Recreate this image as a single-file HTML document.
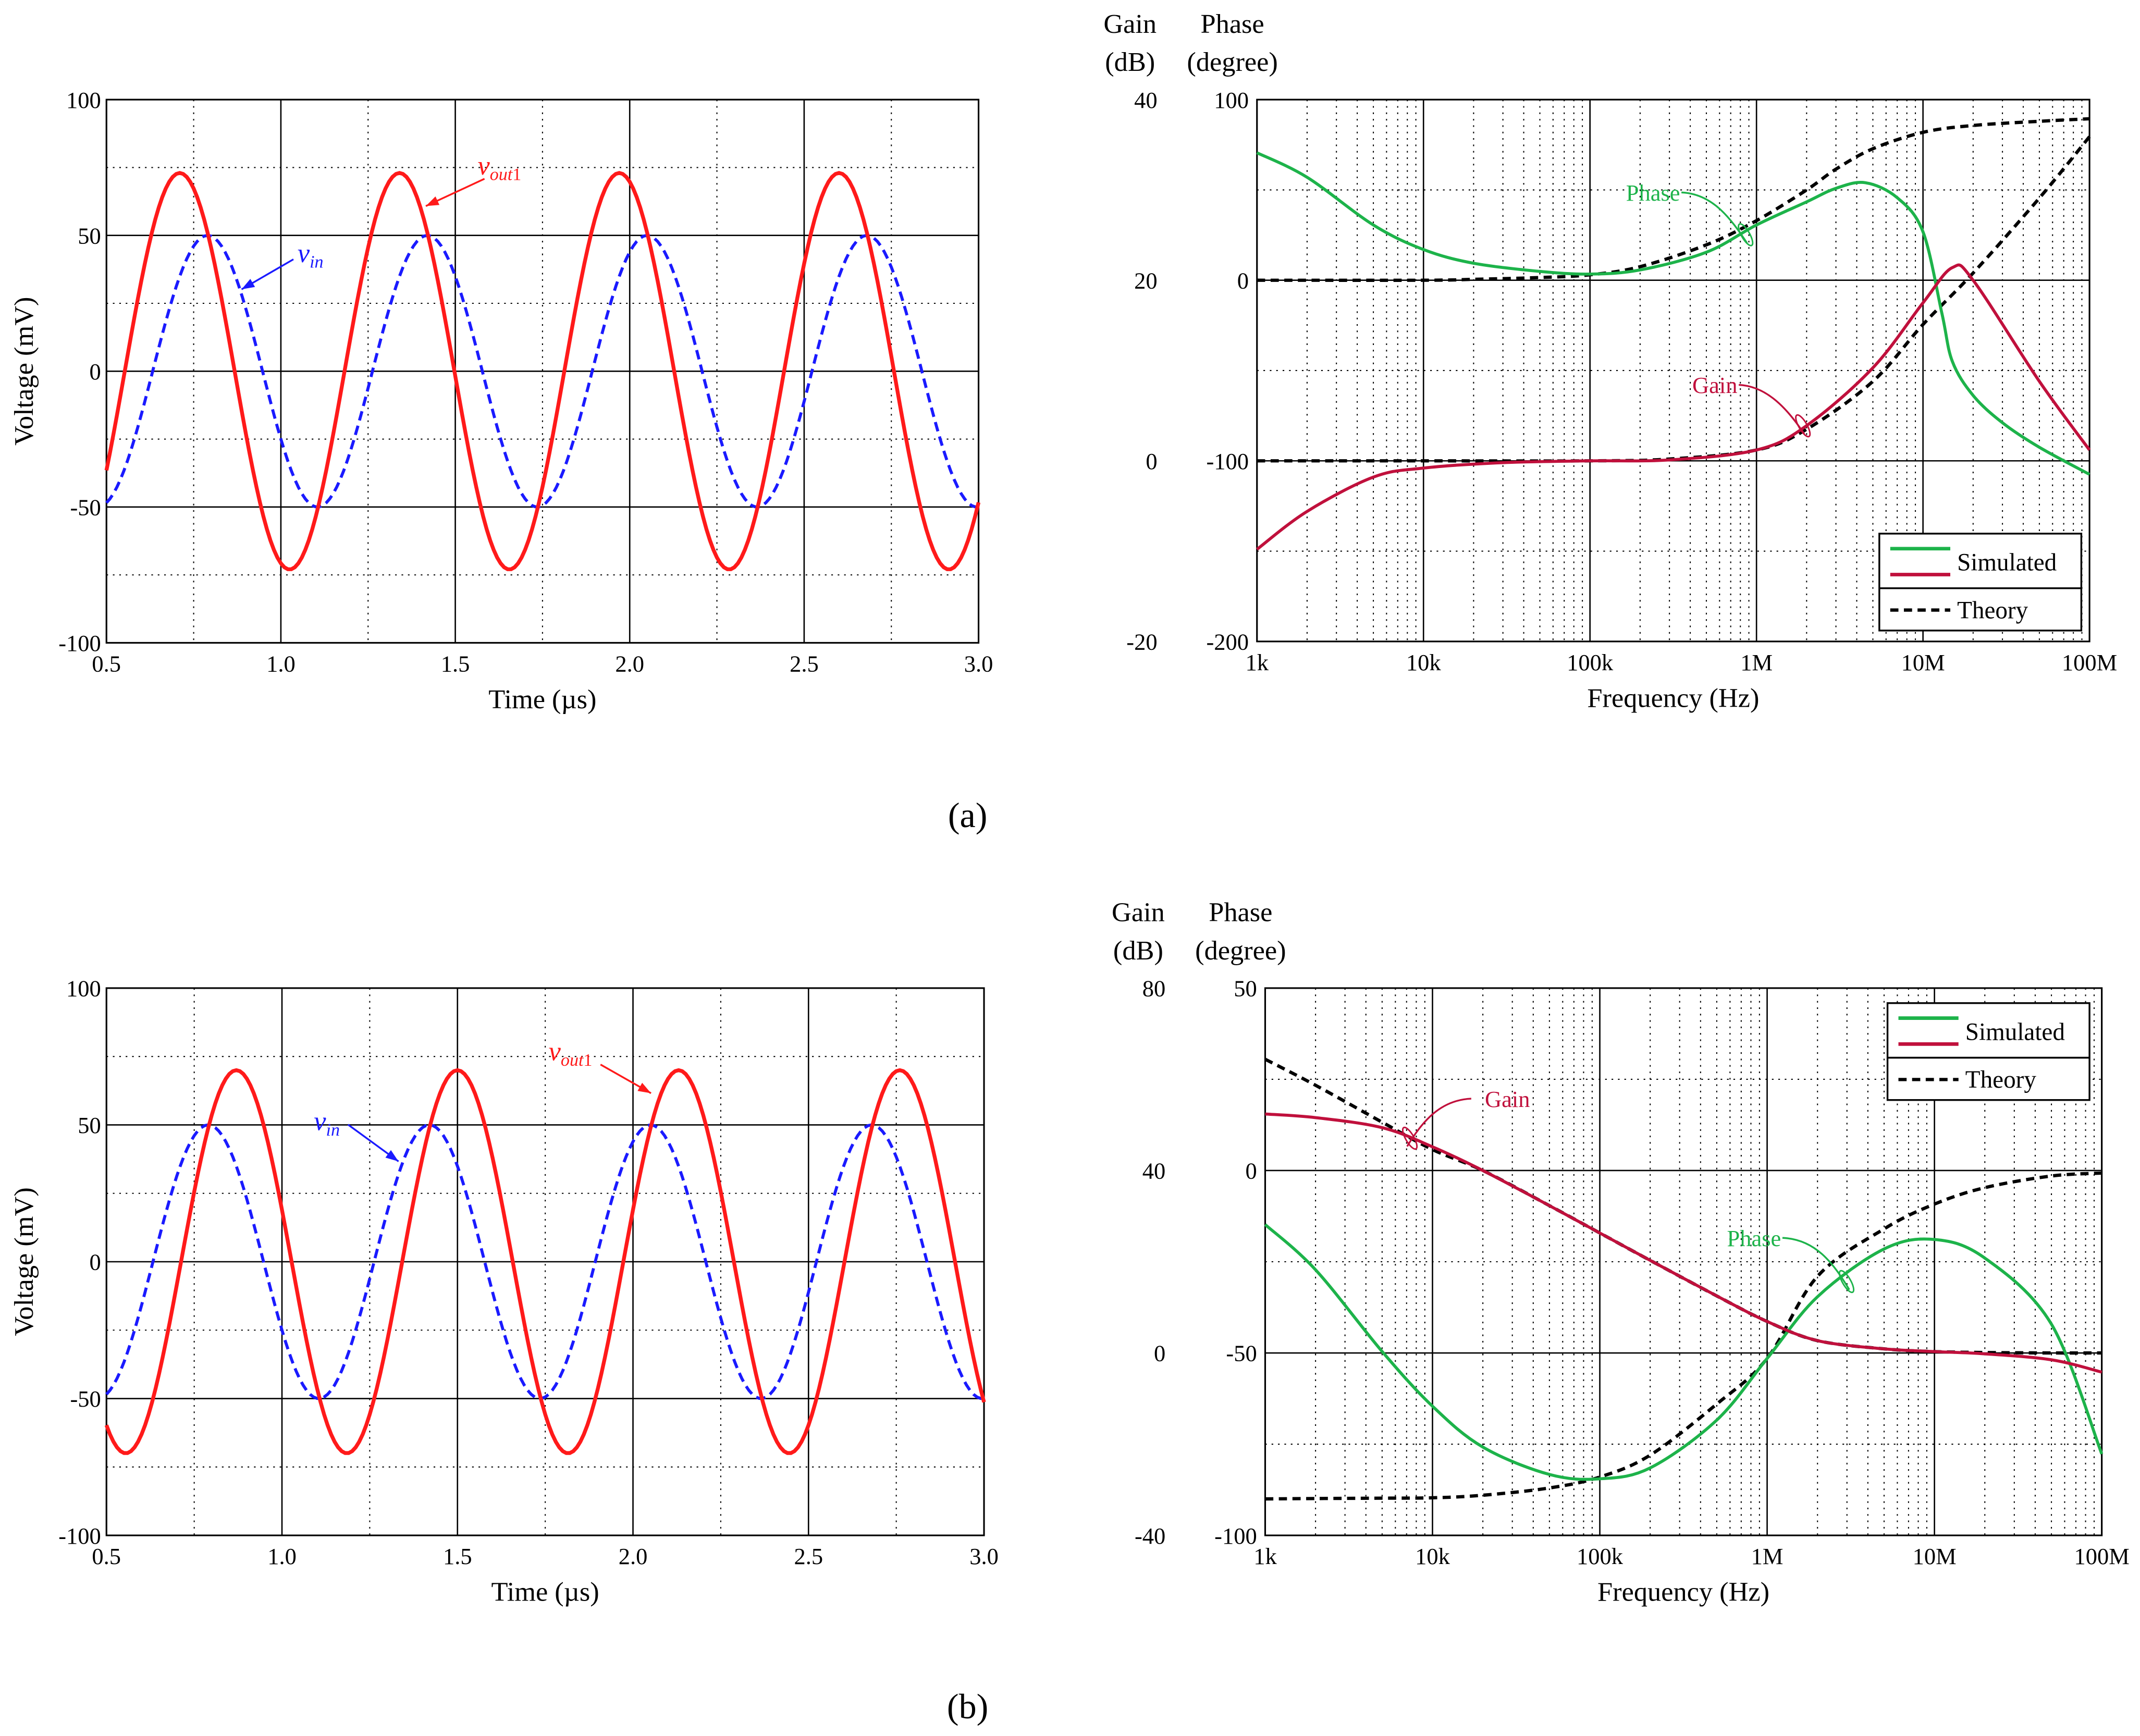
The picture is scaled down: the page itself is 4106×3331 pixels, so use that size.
<!DOCTYPE html>
<html><head><meta charset="utf-8">
<style>
html,body{margin:0;padding:0;background:#fff;}
svg{display:block;font-family:"Liberation Serif",serif;}
</style></head>
<body>
<svg id="fig" width="4106" height="3331" viewBox="0 0 1568 1272" preserveAspectRatio="none" xmlns="http://www.w3.org/2000/svg">
<rect width="1568" height="1272" fill="#fff"/>
<text x="709" y="606" font-size="26" text-anchor="middle">(a)</text>
<text x="709" y="1259" font-size="26" text-anchor="middle">(b)</text>
</svg>
<script>
// ---- time-domain data: sine parameters (amplitude mV, peak time us, period us)
const timeTicks = [0.5,1.0,1.5,2.0,2.5,3.0];
const timeTickLabels = ["0.5","1.0","1.5","2.0","2.5","3.0"];
const voltTicks = [100,50,0,-50,-100];
const voltTickLabels = ["100","50","0","-50","-100"];
const vinA = [50, 0.79, 0.63];
const voutA = [73, 0.71, 0.63];
const vinB = [50, 0.79, 0.63];
const voutB = [70, 0.87, 0.63];

// ---- frequency-domain data
const freqTickLabels = ["1k","10k","100k","1M","10M","100M"];
const gainTicksA = [40,20,0,-20];
const phaseTicksA = [100,0,-100,-200];
const gainTicksB = [80,40,0,-40];
const phaseTicksB = [50,0,-50,-100];
const freqA = [1e3,2e3,5e3,1e4,2e4,5e4,1e5,2e5,5e5,1e6,2e6,3e6,4.5e6,7e6,1e7,1.3e7,1.5e7,2e7,3e7,5e7,1e8];
const phaseSimA = [70.6,57,30.6,17,9.4,4.9,3.4,5.7,15.5,30.6,43.4,50.9,54,45.7,26.8,-18.5,-44.9,-63.8,-78.9,-92.5,-107.5];
const phaseThFreqA = [1e3,1e4,2e4,5e4,1e5,2e5,5e5,1e6,2e6,3e6,5e6,1e7,2e7,5e7,1e8];
const phaseThA = [0,0,0.5,1.5,3,7.5,19.6,33,50,61.5,72.8,81.9,85.7,88,89.4];
const gainFreqA = [1e3,2e3,5e3,1e4,3e4,1e5,3e5,1e6,2e6,5e6,1e7,1.5e7,2e7,5e7,1e8];
const gainSimA = [-9.8,-5.6,-1.8,-0.8,-0.2,0,0.1,1.2,3.9,10.3,17.5,21.4,20,8.8,1.2];
const gainThFreqA = [1e3,1e4,1e5,3e5,1e6,2e6,5e6,1e7,2e7,5e7,1e8];
const gainThA = [0,0,0,0.2,1.2,3.5,8.8,15.1,20.8,29.1,35.9];
const freqB = [1e3,2e3,5e3,1e4,2e4,5e4,1e5,2e5,5e5,1e6,2e6,5e6,1e7,2e7,5e7,1e8];
const gainSimB = [52.4,51.6,49.4,45.2,40,32.3,26.3,20.3,12.5,6.9,2.7,0.9,0.3,-0.2,-1.5,-4.2];
const gainThB = [64.4,58.7,50.6,44.6,40,32.3,26.3,20.3,12.5,6.9,2.7,0.9,0.3,0.1,0,0];
const phaseSimB = [-14.8,-27.2,-49.6,-64.6,-75.8,-83.3,-84.5,-81.5,-68.4,-51.5,-34.6,-21.5,-18.9,-24,-42.1,-77.7];
const phaseThB = [-90,-89.9,-89.8,-89.7,-89,-87,-84,-78,-64,-51.5,-29,-16,-9.2,-4.7,-1.5,-0.7];

const NS="http://www.w3.org/2000/svg";
const svg=document.getElementById('fig');
function el(tag,attrs,parent){const e=document.createElementNS(NS,tag);for(const k in attrs)e.setAttribute(k,attrs[k]);(parent||svg).appendChild(e);return e;}
function txt(x,y,s,attrs,parent){const t=el('text',Object.assign({x:x,y:y},attrs),parent);t.textContent=s;return t;}
function smooth(pts){let d="M"+pts[0][0].toFixed(2)+","+pts[0][1].toFixed(2);
 for(let i=0;i<pts.length-1;i++){const p0=pts[Math.max(i-1,0)],p1=pts[i],p2=pts[i+1],p3=pts[Math.min(i+2,pts.length-1)];
  const c1=[p1[0]+(p2[0]-p0[0])/6,p1[1]+(p2[1]-p0[1])/6],c2=[p2[0]-(p3[0]-p1[0])/6,p2[1]-(p3[1]-p1[1])/6];
  d+="C"+c1.map(v=>v.toFixed(2))+" "+c2.map(v=>v.toFixed(2))+" "+p2[0].toFixed(2)+","+p2[1].toFixed(2);}
 return d;}

function timePlot(L,R,T,B,vin,vout,name,ann){
 const g=el('g',{});
 
 
 const xs=t=>L+(t-0.5)/2.5*(R-L), ys=v=>T+(100-v)/200*(B-T);
 for(let t=0.75;t<3;t+=0.5){const l=el('line',{x1:xs(t),x2:xs(t),y1:T,y2:B,stroke:'#000','stroke-width':0.8,'stroke-dasharray':'1.2 3.5'},g);}
 for(let v=75;v>-100;v-=50){const l=el('line',{x1:L,x2:R,y1:ys(v),y2:ys(v),stroke:'#000','stroke-width':0.8,'stroke-dasharray':'1.2 3.5'},g);}
 timeTicks.forEach((t,i)=>{const l=el('line',{x1:xs(t),x2:xs(t),y1:T,y2:B,stroke:'#000','stroke-width':1},g);
  const tt=txt(xs(t),B+21,timeTickLabels[i],{'font-size':17,'text-anchor':'middle'},g);});
 voltTicks.forEach((v,i)=>{const l=el('line',{x1:L,x2:R,y1:ys(v),y2:ys(v),stroke:'#000','stroke-width':1},g);
  const tt=txt(L-4,ys(v)+6,voltTickLabels[i],{'font-size':17,'text-anchor':'end'},g);});
 const fr=el('rect',{x:L,y:T,width:R-L,height:B-T,fill:'none',stroke:'#000','stroke-width':1.2},g);
 function wave(p){const pts=[];for(let t=0.5;t<=3.0001;t+=0.01)pts.push([xs(t),ys(p[0]*Math.cos(2*Math.PI*(t-p[1])/p[2]))]);return "M"+pts.map(q=>q[0].toFixed(2)+","+q[1].toFixed(2)).join("L");}
 const w1=el('path',{d:wave(vin),fill:'none',stroke:'#1a1aff','stroke-width':2.2,'stroke-dasharray':'7 4'},g);
 const w2=el('path',{d:wave(vout),fill:'none',stroke:'#ff1a1a','stroke-width':2.8},g);
 const yt=txt(0,0,'Voltage (mV)',{'font-size':20,'text-anchor':'middle',transform:'translate('+(L-54)+','+((T+B)/2)+') rotate(-90)'},g);
 const xt=txt((L+R)/2,B+48,'Time (\u00b5s)',{'font-size':20,'text-anchor':'middle'},g);
 ann.forEach(a=>{const gg=el('g',{},g);
  const t=el('text',{x:a.tx,y:a.ty,'font-size':20,fill:a.c,'font-style':'italic'},gg);t.innerHTML=a.label;
  el('line',{x1:a.x1,y1:a.y1,x2:a.x2,y2:a.y2,stroke:a.c,'stroke-width':1.3},gg);
  const ang=Math.atan2(a.y2-a.y1,a.x2-a.x1),s=10;
  const p=[[a.x2,a.y2],[a.x2-s*Math.cos(ang-0.35),a.y2-s*Math.sin(ang-0.35)],[a.x2-s*Math.cos(ang+0.35),a.y2-s*Math.sin(ang+0.35)]];
  el('polygon',{points:p.map(q=>q.join(',')).join(' '),fill:a.c},gg);});
}

function freqPlot(L,R,T,B,gT,pT,series,name,legend,ann){
 const g=el('g',{});
 
 
 const xs=f=>L+(Math.log10(f)-3)/5*(R-L);
 const ysG=v=>T+(gT[0]-v)/(gT[0]-gT[3])*(B-T);
 const ysP=v=>T+(pT[0]-v)/(pT[0]-pT[3])*(B-T);
 for(let d=3;d<8;d++)for(let m=2;m<10;m++){const x=xs(m*Math.pow(10,d));const l=el('line',{x1:x,x2:x,y1:T,y2:B,stroke:'#000','stroke-width':0.8,'stroke-dasharray':'1.2 3.5'},g);}
 for(let i=0;i<3;i++){const y=T+(i+0.5)/3*(B-T);const l=el('line',{x1:L,x2:R,y1:y,y2:y,stroke:'#000','stroke-width':0.8,'stroke-dasharray':'1.2 3.5'},g);}
 freqTickLabels.forEach((s,i)=>{const x=L+i/5*(R-L);const l=el('line',{x1:x,x2:x,y1:T,y2:B,stroke:'#000','stroke-width':1},g);
  const tt=txt(x,B+21,s,{'font-size':17,'text-anchor':'middle'},g);});
 gT.forEach((v,i)=>{const y=ysG(v);const l=el('line',{x1:L,x2:R,y1:y,y2:y,stroke:'#000','stroke-width':1},g);
  const t1=txt(L-73,y+6,String(v),{'font-size':17,'text-anchor':'end'},g);
  const t2=txt(L-6,y+6,String(pT[i]),{'font-size':17,'text-anchor':'end'},g);});
 const fr=el('rect',{x:L,y:T,width:R-L,height:B-T,fill:'none',stroke:'#000','stroke-width':1.2},g);
 const h1=txt(L-93,T-49,'Gain',{'font-size':20,'text-anchor':'middle'},g);
 txt(L-93,T-21,'(dB)',{'font-size':20,'text-anchor':'middle'},g);
 const h2=txt(L-18,T-49,'Phase',{'font-size':20,'text-anchor':'middle'},g);
 txt(L-18,T-21,'(degree)',{'font-size':20,'text-anchor':'middle'},g);
 const xt=txt((L+R)/2,B+48,'Frequency (Hz)',{'font-size':20,'text-anchor':'middle'},g);
 series.forEach(s=>{const ys=s.ax==='g'?ysG:ysP;const pts=s.f.map((f,i)=>[xs(f),ys(s.v[i])]);
  const p=el('path',{d:smooth(pts),fill:'none',stroke:s.c,'stroke-width':s.dash?2.4:2.2,'stroke-dasharray':s.dash?'6 4':'none'},g);
  });
 ann.forEach(a=>{const gg=el('g',{},g);
  txt(a.tx,a.ty,a.label,{'font-size':17,fill:a.c,'text-anchor':'end'},gg);
  el('path',{d:a.d,fill:'none',stroke:a.c,'stroke-width':1.3},gg);
  el('ellipse',{cx:a.ex,cy:a.ey,rx:3,ry:9,transform:'rotate(-30 '+a.ex+' '+a.ey+')',fill:'none',stroke:a.c,'stroke-width':1.1},gg);});
 const lg=el('g',{},g);
 const [lx,ly]=legend;
 el('rect',{x:lx,y:ly,width:148,height:71,fill:'#fff',stroke:'#000','stroke-width':1.3},lg);
 el('line',{x1:lx,x2:lx+148,y1:ly+40,y2:ly+40,stroke:'#000','stroke-width':1.3},lg);
 el('line',{x1:lx+8,x2:lx+52,y1:ly+11,y2:ly+11,stroke:'#1db34a','stroke-width':2.6},lg);
 el('line',{x1:lx+8,x2:lx+52,y1:ly+30,y2:ly+30,stroke:'#c0103c','stroke-width':2.6},lg);
 txt(lx+57,ly+27,'Simulated',{'font-size':18},lg);
 el('line',{x1:lx+8,x2:lx+52,y1:ly+56,y2:ly+56,stroke:'#000','stroke-width':2.4,'stroke-dasharray':'6 4'},lg);
 txt(lx+57,ly+62,'Theory',{'font-size':18},lg);
}

timePlot(78,717,73,471,vinA,voutA,'voltage-time-plot-a',[
 {n:'vout1',tx:350,ty:128,label:'v<tspan font-size="13" dy="4">out</tspan><tspan font-size="13" font-style="normal">1</tspan>',c:'#ff1a1a',x1:355,y1:131,x2:312,y2:151},
 {n:'vin',tx:218,ty:192,label:'v<tspan font-size="13" dy="4">in</tspan>',c:'#1a1aff',x1:215,y1:190,x2:177,y2:212}]);
timePlot(78,721,724,1125,vinB,voutB,'voltage-time-plot-b',[
 {n:'vout1',tx:402,ty:777,label:'v<tspan font-size="13" dy="4">out</tspan><tspan font-size="13" font-style="normal">1</tspan>',c:'#ff1a1a',x1:440,y1:780,x2:477,y2:801},
 {n:'vin',tx:230,ty:828,label:'v<tspan font-size="13" dy="4">in</tspan>',c:'#1a1aff',x1:255,y1:824,x2:292,y2:851}]);

freqPlot(921,1531,73,470,gainTicksA,phaseTicksA,[
 {n:'phase-theory-series',ax:'p',f:phaseThFreqA,v:phaseThA,c:'#000',dash:true},
 {n:'gain-theory-series',ax:'g',f:gainThFreqA,v:gainThA,c:'#000',dash:true},
 {n:'phase-simulated-series',ax:'p',f:freqA,v:phaseSimA,c:'#1db34a'},
 {n:'gain-simulated-series',ax:'g',f:gainFreqA,v:gainSimA,c:'#c0103c'}],
 'bode-plot-a',[1377,391],[
 {n:'phase',tx:1231,ty:147,label:'Phase',c:'#1db34a',d:'M1232,141 C1255,142 1268,160 1280,178',ex:1279,ey:172},
 {n:'gain',tx:1273,ty:288,label:'Gain',c:'#c0103c',d:'M1274,282 C1295,283 1310,300 1322,318',ex:1321,ey:312}]);
freqPlot(927,1540,724,1125,gainTicksB,phaseTicksB,[
 {n:'phase-theory-series',ax:'p',f:freqB,v:phaseThB,c:'#000',dash:true},
 {n:'gain-theory-series',ax:'g',f:freqB,v:gainThB,c:'#000',dash:true},
 {n:'phase-simulated-series',ax:'p',f:freqB,v:phaseSimB,c:'#1db34a'},
 {n:'gain-simulated-series',ax:'g',f:freqB,v:gainSimB,c:'#c0103c'}],
 'bode-plot-b',[1383,735],[
 {n:'gain',tx:1121,ty:811,label:'Gain',c:'#c0103c',d:'M1078,805 C1055,806 1042,822 1031,840',ex:1033,ey:834},
 {n:'phase',tx:1305,ty:913,label:'Phase',c:'#1db34a',d:'M1306,907 C1330,908 1343,925 1355,945',ex:1353,ey:939}]);
</script>
</body></html>
